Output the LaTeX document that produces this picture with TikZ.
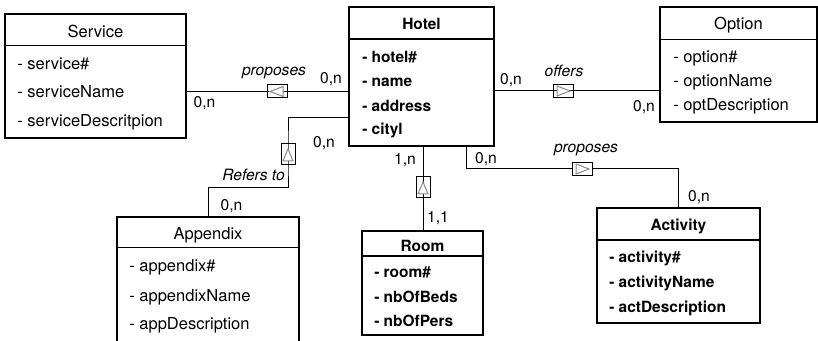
\documentclass[tikz,border=0pt]{standalone}
\usepackage{fontspec}
\setmainfont{TeX Gyre Heros}
\usetikzlibrary{calc}

\tikzset{
  entity/.style={draw, line width=0.8pt, inner sep=0pt},
  bentity/.style={entity, line width=1.4pt},
  etitle/.style={inner sep=0pt, font=\fontsize{12.4}{14}\selectfont},
  btitle/.style={inner sep=0pt, font=\fontsize{11.6}{14}\selectfont\bfseries},
  attr/.style={anchor=west, inner sep=0pt, font=\fontsize{12.4}{14}\selectfont},
  battr/.style={attr, font=\fontsize{11.6}{14}\selectfont\bfseries},
  card/.style={inner sep=0pt, font=\fontsize{11.7}{14}\selectfont},
  rname/.style={inner sep=0pt, font=\fontsize{11.7}{14}\selectfont\itshape},
  rbox/.style={draw, line width=0.75pt, inner sep=0pt, minimum width=20*0.75pt, minimum height=13*0.75pt},
  vbox/.style={rbox, minimum width=14*0.75pt, minimum height=21*0.75pt},
  tri/.style={draw=black!45, fill=white, line width=0.75pt},
  link/.style={line width=0.75pt}
}

\begin{document}
\begin{tikzpicture}[x=0.75pt,y=0.75pt,yscale=-1,xscale=1]
\path[use as bounding box] (0,0) rectangle (818,341);
\clip (0,0) rectangle (818,341);

%Entity: Service
\node[entity, minimum width=181*0.75pt, minimum height=124*0.75pt] (service) at (95.5,76) {};
\draw[line width=0.8pt] ([yshift=32*0.75pt]service.north west) -- ([yshift=32*0.75pt]service.north east);
\node[etitle] (service-t) at (95.5,31) {Service};
\node[attr] (service-a1) at (17,64) {- service\#};
\node[attr] (service-a2) at (17,92) {- serviceName};
\node[attr] (service-a3) at (17,122) {- serviceDescritpion};

%Entity: Hotel
\node[bentity, minimum width=145*0.75pt, minimum height=139*0.75pt] (hotel) at (421.5,76.5) {};
\draw[line width=1.4pt] ([yshift=33*0.75pt]hotel.north west) -- ([yshift=33*0.75pt]hotel.north east);
\node[btitle] (hotel-t) at (421.5,24) {Hotel};
\node[battr] (hotel-a1) at (362,57) {- hotel\#};
\node[battr] (hotel-a2) at (362,82) {- name};
\node[battr] (hotel-a3) at (362,106) {- address};
\node[battr] (hotel-a4) at (362,130) {- cityl};

%Entity: Option
\node[entity, minimum width=157*0.75pt, minimum height=115*0.75pt] (option) at (738.5,64.5) {};
\draw[line width=0.8pt] ([yshift=33*0.75pt]option.north west) -- ([yshift=33*0.75pt]option.north east);
\node[etitle] (option-t) at (738.5,25) {Option};
\node[attr] (option-a1) at (673,58) {- option\#};
\node[attr] (option-a2) at (673,82) {- optionName};
\node[attr] (option-a3) at (673,106) {- optDescription};

%Entity: Appendix
\node[entity, minimum width=182*0.75pt, minimum height=132*0.75pt] (appendix) at (208,283) {};
\draw[line width=0.8pt] ([yshift=31*0.75pt]appendix.north west) -- ([yshift=31*0.75pt]appendix.north east);
\node[etitle] (appendix-t) at (208,235) {Appendix};
\node[attr] (appendix-a1) at (129,267) {- appendix\#};
\node[attr] (appendix-a2) at (129,297) {- appendixName};
\node[attr] (appendix-a3) at (129,325) {- appDescription};

%Entity: Room
\node[bentity, minimum width=121*0.75pt, minimum height=104*0.75pt] (room) at (422.5,283) {};
\draw[line width=1.4pt] ([yshift=26*0.75pt]room.north west) -- ([yshift=26*0.75pt]room.north east);
\node[btitle] (room-t) at (422.5,246) {Room};
\node[battr] (room-a1) at (374,272) {- room\#};
\node[battr] (room-a2) at (374,297) {- nbOfBeds};
\node[battr] (room-a3) at (374,321) {- nbOfPers};

%Entity: Activity
\node[bentity, minimum width=163*0.75pt, minimum height=115*0.75pt] (activity) at (678.5,265.5) {};
\draw[line width=1.4pt] ([yshift=33*0.75pt]activity.north west) -- ([yshift=33*0.75pt]activity.north east);
\node[btitle] (activity-t) at (678.5,226) {Activity};
\node[battr] (activity-a1) at (609,258) {- activity\#};
\node[battr] (activity-a2) at (609,283) {- activityName};
\node[battr] (activity-a3) at (609,308) {- actDescription};

%Relationship boxes
\node[rbox] (r1) at (277,91.5) {};
\node[rbox] (r2) at (563,91) {};
\node[vbox] (r3) at (288,154.5) {};
\node[vbox] (r4) at (423,187.5) {};
\node[rbox] (r5) at (582,169) {};

%Levels for the bent links
\coordinate (refA) at (0,118);
\coordinate (refB) at (0,188);
\coordinate (actA) at (466,0);

%Links
\draw[link] (service.east |- r1) -- (hotel.west |- r1);
\draw[link] (hotel.east |- r2) -- (option.west |- r2);
\draw[link] (hotel.west |- refA) -| (r3.north) -- (r3.south) |- (appendix.north |- refB) -- (appendix.north);
\draw[link] (r4 |- hotel.south) -- (r4 |- room.north);
\draw[link] (actA |- hotel.south) |- (r5) -| (activity.north);

%Triangles
\draw[tri] ($(r1)+(-7,0)$) -- ($(r1)+(6,-5)$) -- ($(r1)+(6,5)$) -- cycle;
\draw[tri] ($(r2)+(7,0)$) -- ($(r2)+(-6,-5)$) -- ($(r2)+(-6,5)$) -- cycle;
\draw[tri] ($(r3)+(0,-5.5)$) -- ($(r3)+(-5,6.5)$) -- ($(r3)+(5,6.5)$) -- cycle;
\draw[tri] ($(r4)+(0,-5.5)$) -- ($(r4)+(-5,6.5)$) -- ($(r4)+(5,6.5)$) -- cycle;
\draw[tri] ($(r5)+(7,0)$) -- ($(r5)+(-6,-5)$) -- ($(r5)+(-6,5)$) -- cycle;

% Text Node
\node[rname] (r1-name) at (274,73) {proposes};
\node[card] (r1-c1) at (204.5,103) {0,n};
\node[card] (r1-c2) at (331,79) {0,n};
% Text Node
\node[rname] (r2-name) at (564,71) {offers};
\node[card] (r2-c1) at (511,80) {0,n};
\node[card] (r2-c2) at (644,107) {0,n};
% Text Node
\node[rname] (r3-name) at (253.5,175) {Refers to};
\node[card] (r3-c1) at (324,143) {0,n};
\node[card] (r3-c2) at (231.5,206) {0,n};
% Text Node
\node[card] (r4-c1) at (405,160) {1,n};
\node[card] (r4-c2) at (438,218) {1,1};
% Text Node
\node[rname] (r5-name) at (586,150) {proposes};
\node[card] (r5-c1) at (486,159) {0,n};
\node[card] (r5-c2) at (699,197) {0,n};

\end{tikzpicture}
\end{document}
